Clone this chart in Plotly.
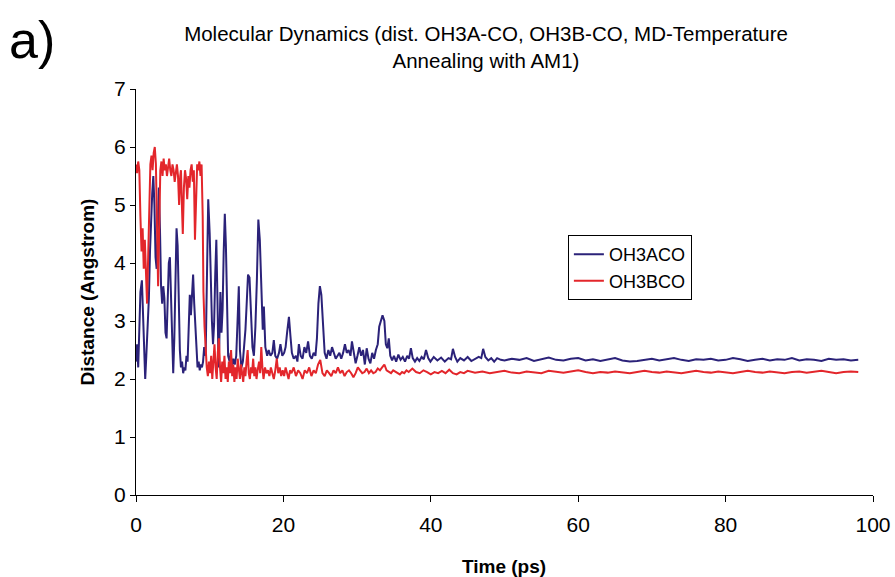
import plotly.graph_objects as go

# ---- data (time in ps, distance in Angstrom) ----
oh3aco_points = [
    (0.0, 2.3), (0.15, 2.6), (0.3, 2.2), (0.45, 2.8), (0.6, 3.5), (0.8, 3.7), (0.95, 3.1),
    (1.1, 2.2), (1.25, 2.0), (1.4, 2.4), (1.6, 3.0), (1.75, 3.4), (1.9, 4.2), (2.05, 4.9),
    (2.2, 5.2), (2.35, 5.5), (2.5, 5.0), (2.65, 4.1), (2.8, 3.9), (2.95, 4.6), (3.1, 5.3),
    (3.25, 4.6), (3.4, 3.6), (3.55, 3.3), (3.7, 3.6), (3.85, 3.4), (4.0, 2.8), (4.15, 2.7),
    (4.3, 3.3), (4.45, 4.0), (4.6, 4.1), (4.75, 3.3), (4.9, 2.4), (5.05, 2.1), (5.2, 2.7),
    (5.35, 3.7), (5.5, 4.6), (5.65, 4.3), (5.8, 3.2), (5.95, 2.5), (6.1, 2.2), (6.25, 2.3),
    (6.4, 2.1), (6.55, 2.2), (6.7, 2.15), (6.85, 2.4), (7.0, 2.3), (7.15, 2.9), (7.3, 3.45),
    (7.45, 3.1), (7.6, 3.4), (7.75, 3.8), (7.9, 3.3), (8.05, 2.9), (8.2, 2.4), (8.35, 2.2),
    (8.5, 2.3), (8.65, 2.15), (8.8, 2.25), (8.95, 2.2), (9.1, 2.3), (9.25, 2.55), (9.45, 2.4),
    (9.6, 3.6), (9.8, 5.1), (10.0, 4.5), (10.15, 3.6), (10.3, 3.0), (10.45, 2.6), (10.6, 2.95),
    (10.75, 3.8), (10.9, 4.4), (11.05, 3.4), (11.2, 2.2), (11.3, 2.6), (11.45, 3.5), (11.6, 2.8),
    (11.75, 3.2), (11.9, 4.2), (12.05, 4.85), (12.2, 4.3), (12.35, 3.1), (12.5, 2.4), (12.7, 2.3),
    (12.85, 2.45), (13.0, 2.2), (13.2, 2.35), (13.4, 2.25), (13.6, 2.4), (13.75, 2.9), (13.95, 3.6),
    (14.1, 2.5), (14.3, 2.2), (14.5, 2.3), (14.7, 2.6), (14.85, 2.85), (15.0, 3.25), (15.2, 3.8),
    (15.4, 3.75), (15.6, 3.0), (15.8, 2.55), (16.0, 2.4), (16.2, 2.9), (16.4, 3.7), (16.6, 4.75),
    (16.8, 4.4), (17.0, 3.4), (17.2, 2.85), (17.35, 3.25), (17.55, 2.55), (17.8, 2.4), (18.0, 2.5),
    (18.25, 2.4), (18.5, 2.45), (18.7, 2.67), (18.9, 2.4), (19.15, 2.35), (19.4, 2.45), (19.6, 2.6),
    (19.85, 2.4), (20.1, 2.45), (20.3, 2.55), (20.5, 2.8), (20.75, 3.07), (20.95, 2.75), (21.15, 2.45),
    (21.4, 2.35), (21.7, 2.4), (21.9, 2.3), (22.1, 2.6), (22.35, 2.4), (22.6, 2.35), (22.85, 2.55),
    (23.1, 2.45), (23.35, 2.65), (23.6, 2.4), (23.85, 2.35), (24.1, 2.45), (24.35, 2.4), (24.55, 2.7),
    (24.75, 3.3), (24.95, 3.6), (25.15, 3.45), (25.35, 2.9), (25.6, 2.45), (25.85, 2.35), (26.1, 2.5),
    (26.35, 2.4), (26.6, 2.55), (26.85, 2.45), (27.1, 2.35), (27.35, 2.4), (27.6, 2.45), (27.85, 2.35),
    (28.1, 2.45), (28.35, 2.6), (28.6, 2.45), (28.85, 2.5), (29.1, 2.4), (29.3, 2.65), (29.55, 2.45),
    (29.8, 2.27), (30.05, 2.4), (30.3, 2.55), (30.55, 2.4), (30.8, 2.5), (31.05, 2.25), (31.3, 2.53),
    (31.55, 2.35), (31.8, 2.27), (32.05, 2.45), (32.3, 2.35), (32.55, 2.5), (32.8, 2.6), (33.0, 2.9),
    (33.25, 3.0), (33.45, 3.1), (33.7, 3.0), (33.9, 2.6), (34.1, 2.53), (34.3, 2.7), (34.5, 2.4),
    (34.75, 2.32), (35.0, 2.4), (35.3, 2.3), (35.6, 2.42), (35.9, 2.33), (36.2, 2.38), (36.5, 2.3),
    (36.8, 2.4), (37.05, 2.35), (37.3, 2.53), (37.55, 2.36), (37.85, 2.3), (38.15, 2.36), (38.45, 2.31),
    (38.75, 2.38), (39.05, 2.34), (39.35, 2.5), (39.65, 2.36), (39.95, 2.3), (40.4, 2.38), (40.9, 2.32),
    (41.4, 2.37), (41.9, 2.3), (42.4, 2.36), (42.75, 2.34), (43.0, 2.52), (43.3, 2.38), (43.6, 2.3),
    (44.0, 2.36), (44.5, 2.32), (45.0, 2.38), (45.5, 2.31), (46.0, 2.35), (46.5, 2.38), (46.85, 2.36),
    (47.1, 2.52), (47.4, 2.38), (47.8, 2.32), (48.2, 2.36), (48.6, 2.3), (49.0, 2.36), (49.5, 2.33),
    (50, 2.32), (51, 2.35), (52, 2.33), (53, 2.36), (54, 2.31), (55, 2.34), (56, 2.37), (57, 2.33),
    (58, 2.32), (59, 2.35), (60, 2.36), (61, 2.32), (62, 2.34), (63, 2.31), (64, 2.33), (65, 2.36),
    (66, 2.32), (67, 2.3), (68, 2.31), (69, 2.33), (70, 2.35), (71, 2.32), (72, 2.34), (73, 2.36),
    (74, 2.33), (75, 2.31), (76, 2.34), (77, 2.33), (78, 2.35), (79, 2.32), (80, 2.33), (81, 2.36),
    (82, 2.34), (83, 2.31), (84, 2.33), (85, 2.35), (86, 2.32), (87, 2.34), (88, 2.33), (89, 2.36),
    (90, 2.32), (91, 2.34), (92, 2.33), (93, 2.31), (94, 2.35), (95, 2.33), (96, 2.34), (97, 2.32),
    (98, 2.33),
]

oh3bco_points = [
    (0.0, 5.7), (0.15, 5.55), (0.3, 5.75), (0.45, 5.6), (0.6, 4.8), (0.75, 4.2), (0.9, 4.6),
    (1.05, 3.9), (1.2, 4.4), (1.35, 3.6), (1.5, 3.3), (1.65, 4.1), (1.8, 5.2), (1.95, 5.7),
    (2.1, 5.85), (2.25, 5.6), (2.4, 5.9), (2.55, 6.0), (2.7, 5.7), (2.85, 4.5), (3.0, 3.6),
    (3.15, 4.6), (3.3, 5.6), (3.45, 5.75), (3.6, 5.5), (3.75, 5.8), (3.9, 5.6), (4.05, 5.7),
    (4.2, 5.5), (4.35, 5.65), (4.5, 5.8), (4.65, 5.6), (4.8, 5.5), (4.95, 5.7), (5.1, 5.6),
    (5.25, 5.4), (5.4, 5.6), (5.55, 5.7), (5.7, 5.5), (5.85, 5.0), (6.0, 5.5), (6.1, 5.6),
    (6.25, 4.9), (6.35, 4.5), (6.5, 5.3), (6.65, 5.6), (6.8, 5.45), (6.95, 5.1), (7.1, 5.5),
    (7.25, 5.3), (7.4, 5.6), (7.55, 5.7), (7.7, 5.4), (7.85, 5.6), (8.0, 4.4), (8.15, 5.0),
    (8.3, 5.7), (8.45, 5.6), (8.6, 5.75), (8.75, 5.5), (8.9, 5.7), (9.05, 4.8), (9.15, 3.5),
    (9.3, 2.9), (9.45, 2.5), (9.6, 2.2), (9.75, 2.05), (9.9, 2.3), (10.05, 2.1), (10.2, 2.4),
    (10.35, 2.0), (10.5, 2.25), (10.65, 2.6), (10.8, 2.2), (10.95, 2.0), (11.1, 2.45), (11.25, 2.7),
    (11.4, 2.2), (11.55, 1.95), (11.7, 2.3), (11.85, 2.1), (12.0, 2.4), (12.15, 2.0), (12.3, 2.2),
    (12.45, 1.95), (12.6, 2.3), (12.75, 2.1), (12.9, 2.5), (13.05, 2.05), (13.2, 2.25), (13.35, 1.95),
    (13.5, 2.2), (13.65, 2.0), (13.8, 2.35), (13.95, 2.1), (14.1, 2.0), (14.25, 2.25), (14.4, 2.1),
    (14.55, 1.95), (14.7, 2.2), (14.85, 2.05), (15.0, 2.3), (15.15, 2.5), (15.3, 2.1), (15.45, 2.0),
    (15.6, 2.2), (15.75, 2.1), (15.9, 2.35), (16.05, 2.05), (16.2, 2.2), (16.35, 2.0), (16.5, 2.15),
    (16.7, 2.3), (16.85, 2.1), (17.0, 2.55), (17.15, 2.2), (17.3, 2.0), (17.5, 2.2), (17.7, 2.1),
    (17.9, 2.15), (18.1, 2.05), (18.3, 2.2), (18.5, 2.1), (18.7, 2.0), (18.9, 2.15), (19.1, 2.35),
    (19.3, 2.1), (19.5, 2.2), (19.7, 2.05), (19.9, 2.15), (20.1, 2.05), (20.3, 2.2), (20.5, 2.1),
    (20.7, 2.0), (20.9, 2.15), (21.1, 2.1), (21.4, 2.2), (21.7, 2.05), (22.0, 2.15), (22.3, 2.1),
    (22.6, 2.0), (22.9, 2.15), (23.2, 2.1), (23.5, 2.2), (23.8, 2.05), (24.1, 2.15), (24.4, 2.1),
    (24.7, 2.25), (25.0, 2.33), (25.3, 2.1), (25.6, 2.05), (25.9, 2.15), (26.2, 2.1), (26.5, 2.05),
    (26.8, 2.15), (27.1, 2.1), (27.4, 2.2), (27.7, 2.1), (28.0, 2.15), (28.3, 2.05), (28.6, 2.12),
    (28.9, 2.15), (29.2, 2.1), (29.5, 2.03), (29.8, 2.1), (30.1, 2.2), (30.4, 2.15), (30.7, 2.1),
    (31.0, 2.12), (31.3, 2.18), (31.6, 2.1), (31.9, 2.15), (32.2, 2.1), (32.5, 2.12), (32.8, 2.18),
    (33.1, 2.15), (33.4, 2.2), (33.7, 2.25), (34.0, 2.15), (34.3, 2.12), (34.6, 2.1), (34.9, 2.15),
    (35.2, 2.13), (35.5, 2.1), (35.8, 2.08), (36.1, 2.12), (36.4, 2.1), (36.7, 2.15), (37.0, 2.12),
    (37.5, 2.18), (38.0, 2.12), (38.5, 2.1), (39.0, 2.15), (39.5, 2.12), (40.0, 2.08), (40.5, 2.12),
    (41.0, 2.1), (41.5, 2.14), (42.0, 2.1), (42.5, 2.16), (43.0, 2.1), (43.5, 2.08), (44.0, 2.12),
    (44.5, 2.1), (45.0, 2.14), (46, 2.11), (47, 2.13), (48, 2.1), (49, 2.12), (50, 2.14), (51, 2.11),
    (52, 2.1), (53, 2.13), (54, 2.12), (55, 2.1), (56, 2.14), (57, 2.12), (58, 2.11), (59, 2.13),
    (60, 2.15), (61, 2.12), (62, 2.1), (63, 2.12), (64, 2.11), (65, 2.13), (66, 2.12), (67, 2.1),
    (68, 2.12), (69, 2.14), (70, 2.12), (71, 2.11), (72, 2.13), (73, 2.12), (74, 2.1), (75, 2.12),
    (76, 2.14), (77, 2.12), (78, 2.11), (79, 2.13), (80, 2.12), (81, 2.1), (82, 2.12), (83, 2.14),
    (84, 2.12), (85, 2.11), (86, 2.13), (87, 2.12), (88, 2.1), (89, 2.12), (90, 2.13), (91, 2.11),
    (92, 2.12), (93, 2.14), (94, 2.12), (95, 2.1), (96, 2.12), (97, 2.13), (98, 2.12),
]

x_ticks = [0, 20, 40, 60, 80, 100]
y_ticks = [0, 1, 2, 3, 4, 5, 6, 7]

time_a = [p[0] for p in oh3aco_points]
dist_a = [p[1] for p in oh3aco_points]
time_b = [p[0] for p in oh3bco_points]
dist_b = [p[1] for p in oh3bco_points]

FONT = "Liberation Sans, Arial, sans-serif"

W, H = 895, 577
L, R, T, B = 136, 22, 89, 82
PW, PH = W - L - R, H - T - B   # 737 x 406 plot area

fig = go.Figure()
fig.add_trace(go.Scatter(x=time_a, y=dist_a, mode="lines", name="OH3ACO",
                         line=dict(color="#2b2279", width=2)))
fig.add_trace(go.Scatter(x=time_b, y=dist_b, mode="lines", name="OH3BCO",
                         line=dict(color="#e3262b", width=2)))

fig.update_layout(
    width=W, height=H,
    margin=dict(l=L, r=R, t=T, b=B),
    paper_bgcolor="white", plot_bgcolor="white",
    font=dict(family=FONT, color="black"),
    showlegend=True,
    legend=dict(x=0.586, y=0.64, xanchor="left", yanchor="top",
                bordercolor="black", borderwidth=1, bgcolor="white",
                font=dict(size=18, family=FONT), tracegroupgap=0,
                itemwidth=30),
    title=dict(text="Molecular Dynamics (dist. OH3A-CO, OH3B-CO, MD-Temperature<br>Annealing with AM1)",
               x=486 / W, xanchor="center", y=1 - 41 / H, yanchor="middle",
               font=dict(size=20.5, family=FONT)),
)

fig.update_xaxes(range=[0, 100], tickvals=x_ticks, showgrid=False, zeroline=False,
                 showline=True, linecolor="black", linewidth=1, automargin=False,
                 ticks="outside", ticklen=6, tickcolor="black", ticklabeloverflow="allow",
                 tickfont=dict(size=21, family=FONT), ticklabelstandoff=5)
fig.update_yaxes(range=[0, 7], tickvals=y_ticks, showgrid=False, zeroline=False,
                 showline=True, linecolor="black", linewidth=1, automargin=False,
                 ticks="outside", ticklen=5, tickcolor="black", ticklabeloverflow="allow",
                 tickfont=dict(size=21, family=FONT), ticklabelstandoff=0,
                 title=dict(text="<b>Distance (Angstrom)</b>", font=dict(size=19, family=FONT), standoff=14))

# x-axis title placed explicitly below the tick labels
fig.add_annotation(text="<b>Time (ps)</b>", xref="paper", yref="paper",
                   x=(504 - L) / PW, y=-(566 - (T + PH)) / PH,
                   xanchor="center", yanchor="middle", showarrow=False,
                   font=dict(size=19, family=FONT, color="black"))

fig.add_annotation(text="a)", xref="paper", yref="paper", x=-(L - 7) / PW, y=1 + (T - 40) / PH,
                   xanchor="left", yanchor="middle", showarrow=False,
                   font=dict(size=52, family=FONT, color="black"))

# remove the browser's default 8px page margin so the figure fills the window exactly
fig.write_html("out.html", config={"displayModeBar": False},
               post_script="document.body.style.margin='0px';")
